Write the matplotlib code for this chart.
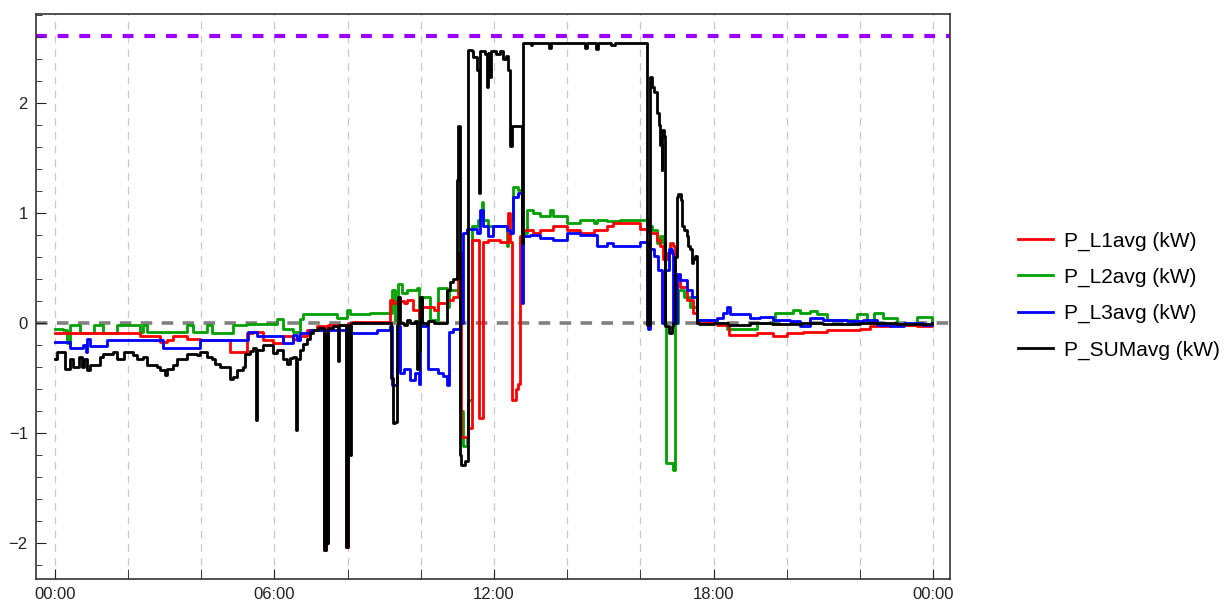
import matplotlib.pyplot as plt
from matplotlib.ticker import FixedLocator, MultipleLocator

plt.rcParams['font.family'] = ['Liberation Sans', 'DejaVu Sans']

# hours of day where each series changes, and its value there (kW)
sum_hours = [0.00, 0.05, 0.28, 0.42, 0.51, 0.65, 0.74, 0.80, 0.89, 0.96, 1.24, 1.33, 1.60, 1.69,
             1.88, 2.15, 2.24, 2.42, 2.51, 2.79, 2.88, 3.01, 3.06, 3.24, 3.33, 3.61, 3.88, 3.97,
             4.15, 4.29, 4.38, 4.52, 4.79, 4.88, 4.97, 5.15, 5.20, 5.34, 5.43, 5.50, 5.54, 5.70,
             5.88, 5.97, 6.06, 6.25, 6.34, 6.43, 6.52, 6.58, 6.62, 6.70, 6.79, 6.88, 6.98, 7.07,
             7.20, 7.37, 7.41, 7.43, 7.47, 7.61, 7.73, 7.77, 7.96, 8.00, 8.05, 8.10, 9.20, 9.24,
             9.30, 9.34, 9.39, 9.43, 9.53, 9.62, 9.71, 9.84, 9.89, 9.94, 9.98, 10.03, 10.16, 10.21,
             10.35, 10.71, 10.80, 10.89, 10.98, 11.02, 11.06, 11.10, 11.20, 11.30, 11.39, 11.44,
             11.53, 11.58, 11.63, 11.75, 11.80, 11.83, 11.89, 11.92, 12.05, 12.17, 12.26, 12.32,
             12.39, 12.44, 12.50, 12.72, 12.76, 12.80, 13.00, 13.05, 13.50, 13.55, 14.50, 14.55,
             14.80, 14.85, 15.20, 15.30, 16.17, 16.26, 16.31, 16.36, 16.45, 16.50, 16.54, 16.58,
             16.60, 16.64, 16.67, 16.77, 16.86, 16.90, 16.95, 16.99, 17.04, 17.10, 17.13, 17.18,
             17.27, 17.31, 17.36, 17.40, 17.45, 17.49, 17.54, 17.60, 18.00, 18.40, 19.00, 19.60,
             20.40, 21.00, 22.00, 23.00, 23.96]
sum_vals = [-0.33, -0.26, -0.42, -0.33, -0.40, -0.31, -0.40, -0.33, -0.43, -0.38, -0.31, -0.28, -0.26, -0.33,
            -0.26, -0.29, -0.33, -0.31, -0.38, -0.40, -0.43, -0.47, -0.42, -0.38, -0.33, -0.28, -0.29, -0.26,
            -0.31, -0.33, -0.37, -0.40, -0.51, -0.49, -0.43, -0.40, -0.28, -0.25, -0.23, -0.88, -0.24, -0.20,
            -0.20, -0.27, -0.24, -0.33, -0.37, -0.32, -0.31, -0.97, -0.33, -0.24, -0.19, -0.14, -0.09, -0.06,
            -0.04, -2.06, -0.10, -2.00, -0.04, -0.03, -0.34, -0.02, -2.03, -0.02, -1.20, 0.00, -0.50, -0.91,
            -0.90, -0.02, 0.24, 0.00, -0.02, 0.03, 0.00, 0.02, -0.42, -0.25, 0.24, 0.00, -0.02, 0.02,
            0.00, 0.30, 0.37, 0.40, 1.30, 1.79, -1.20, -1.29, -1.25, 2.48, 2.47, 2.42,
            2.30, 1.18, 2.47, 2.45, 2.15, 2.46, 2.24, 2.47, 2.45, 2.47, 2.40, 2.43,
            2.30, 1.61, 1.79, 1.79, 0.73, 2.55, 2.53, 2.55, 2.50, 2.55, 2.50, 2.55,
            2.49, 2.55, 2.53, 2.55, -0.02, 2.24, 2.15, 2.10, 1.91, 1.80, 1.62, 1.39,
            1.76, 1.70, -0.03, -0.09, -0.03, 0.00, 0.60, 1.15, 1.17, 1.12, 0.88, 0.85,
            0.79, 0.70, 0.67, 0.55, 0.58, 0.61, 0.00, -0.01, 0.00, -0.02, 0.00, -0.01,
            0.00, -0.01, 0.00, -0.01, 0.00]

l1_hours = [0.00, 2.33, 2.88, 3.06, 3.24, 3.61, 3.97, 4.79, 5.25, 5.43, 5.70, 5.97, 6.25, 6.52,
            6.70, 6.88, 7.16, 7.37, 7.41, 7.43, 7.47, 7.96, 8.00, 8.16, 9.16, 9.25, 9.34, 9.53,
            9.62, 9.80, 9.94, 10.03, 10.35, 10.48, 10.71, 10.89, 11.03, 11.10, 11.30, 11.39, 11.60,
            11.69, 11.85, 12.17, 12.39, 12.44, 12.48, 12.60, 12.67, 12.71, 12.80, 13.08, 13.26,
            13.62, 13.99, 14.35, 14.72, 15.08, 15.26, 15.99, 16.17, 16.26, 16.45, 16.54, 16.63,
            16.72, 16.81, 16.90, 16.95, 17.08, 17.27, 17.45, 17.54, 18.09, 18.41, 19.18, 19.63,
            20.00, 20.45, 21.09, 22.00, 22.28, 22.82, 23.55, 23.96]
l1_vals = [-0.09, -0.12, -0.17, -0.15, -0.12, -0.14, -0.15, -0.26, -0.09, -0.08, -0.15, -0.18, -0.12, -0.14,
           -0.12, -0.06, -0.03, -2.06, -0.03, -2.00, -0.02, -2.03, 0.00, 0.01, 0.21, 0.18, 0.20, 0.18,
           0.21, 0.12, 0.06, 0.15, 0.12, 0.18, 0.21, 0.24, 0.64, -1.03, -0.95, 0.76, -0.86,
           0.74, 0.76, 0.74, 1.00, 0.74, -0.70, -0.60, -0.55, 0.79, 0.85, 0.82, 0.85,
           0.88, 0.85, 0.82, 0.85, 0.88, 0.91, 0.86, 0.85, 0.82, 0.76, 0.70, 0.58,
           0.64, 0.73, 0.70, 0.42, 0.33, 0.21, 0.09, 0.00, -0.02, -0.11, -0.09, -0.12,
           -0.09, -0.08, -0.06, -0.05, -0.03, -0.02, -0.03, -0.02]

l2_hours = [0.00, 0.24, 0.33, 0.42, 0.69, 1.06, 1.33, 1.69, 2.33, 2.42, 2.51, 3.61, 3.79, 4.15,
            4.29, 4.88, 5.25, 6.06, 6.25, 6.52, 6.70, 6.79, 7.70, 7.98, 8.07, 8.62, 9.21, 9.30,
            9.39, 9.48, 9.62, 9.89, 9.94, 10.03, 10.25, 10.48, 10.71, 10.76, 11.07, 11.16, 11.26,
            11.30, 11.39, 11.57, 11.67, 11.71, 11.85, 12.35, 12.39, 12.53, 12.67, 12.76, 12.89,
            13.08, 13.26, 13.53, 13.62, 13.99, 14.35, 14.72, 14.81, 15.08, 15.45, 16.17, 16.22,
            16.31, 16.45, 16.54, 16.63, 16.67, 16.70, 16.90, 16.95, 17.04, 17.18, 17.36, 17.54,
            18.09, 18.36, 19.18, 19.68, 20.18, 20.36, 20.64, 20.82, 21.09, 21.91, 22.19, 22.37,
            22.64, 23.00, 23.55, 23.96]
l2_vals = [-0.05, -0.06, -0.18, -0.02, -0.09, -0.02, -0.09, -0.02, -0.08, -0.02, -0.08, -0.02, -0.08, -0.02,
           -0.09, -0.02, -0.01, 0.04, -0.05, -0.08, 0.04, 0.08, 0.05, 0.12, 0.08, 0.09, 0.30, 0.03,
           0.36, 0.27, 0.30, 0.32, 0.00, 0.24, 0.03, 0.32, 0.15, 0.30, -0.80, -1.12, -1.03,
           -0.70, 0.88, 0.94, 1.10, 0.94, 0.88, 0.70, 0.94, 1.24, 1.21, 0.82, 1.03,
           1.00, 0.97, 1.03, 0.97, 0.91, 0.94, 0.91, 0.94, 0.93, 0.94, 0.95, 0.88,
           0.85, 0.73, 0.79, 0.73, 0.00, -1.27, -1.33, 0.00, 0.30, 0.24, 0.15, 0.03,
           0.00, -0.05, 0.00, 0.09, 0.12, 0.09, 0.11, 0.08, 0.03, 0.08, 0.02, 0.09,
           0.05, -0.02, 0.06, 0.02]

l3_hours = [0.00, 0.42, 0.78, 0.86, 0.89, 0.96, 1.42, 2.97, 3.97, 5.29, 5.52, 6.25, 6.52, 6.61,
            6.70, 6.98, 7.98, 8.80, 9.16, 9.21, 9.34, 9.39, 9.43, 9.53, 9.71, 9.84, 9.94, 9.98,
            10.21, 10.48, 10.62, 10.71, 10.76, 10.89, 11.07, 11.16, 11.26, 11.53, 11.62, 11.71,
            11.85, 11.98, 12.35, 12.44, 12.53, 12.67, 12.76, 12.80, 12.99, 13.26, 13.62, 13.99,
            14.35, 14.81, 15.08, 15.26, 15.99, 16.17, 16.20, 16.25, 16.36, 16.49, 16.58, 16.67,
            16.77, 16.86, 16.90, 16.99, 17.08, 17.27, 17.40, 17.54, 18.09, 18.27, 18.36, 18.45,
            19.00, 19.27, 19.63, 20.09, 20.36, 20.64, 21.00, 21.64, 22.09, 22.46, 22.82, 23.19,
            23.73, 23.96]
l3_vals = [-0.17, -0.23, -0.20, -0.26, -0.14, -0.21, -0.15, -0.23, -0.15, -0.08, -0.12, -0.18, -0.11, -0.15,
           -0.09, -0.06, -0.09, -0.06, -0.03, -0.56, -0.42, -0.03, -0.45, -0.42, -0.52, -0.45, -0.55, -0.03,
           -0.42, -0.45, -0.48, -0.56, -0.08, -0.05, 0.00, 0.82, 0.86, 0.82, 1.03, 0.88,
           0.79, 0.88, 0.85, 0.82, 1.15, 1.18, 0.18, 0.79, 0.80, 0.77, 0.76, 0.82,
           0.80, 0.70, 0.73, 0.70, 0.74, 0.73, -0.05, 0.67, 0.61, 0.48, 0.00, 0.48,
           0.67, 0.64, 0.00, 0.45, 0.39, 0.30, 0.24, 0.03, 0.05, 0.09, 0.15, 0.08,
           0.05, 0.06, 0.03, 0.02, -0.03, 0.05, 0.03, 0.02, 0.03, -0.02, -0.03, 0.00,
           -0.02, 0.00]

limit_kw = 2.61
tick_hours = [0, 6, 12, 18, 24]
tick_labels = ['00:00', '06:00', '12:00', '18:00', '00:00']

fig = plt.figure(figsize=(12.26, 6.03), dpi=100)
ax = fig.add_axes([0.0294, 0.0398, 0.7455, 0.937])

# grid and reference lines
for h in range(0, 25, 2):
    ax.axvline(h, color='#c8c8c8', lw=0.9, dashes=(6, 5), zorder=0)
ax.axhline(0, color='#808080', lw=2.6, dashes=(3.2, 2.6), zorder=1)
ax.axhline(limit_kw, color='#9b00ff', lw=3, dashes=(2.6, 2.6), zorder=1)

ax.plot(l1_hours, l1_vals, color='#ff0000', lw=2.0, drawstyle='steps-post', label='P_L1avg (kW)', zorder=3)
ax.plot(l2_hours, l2_vals, color='#00a000', lw=2.0, drawstyle='steps-post', label='P_L2avg (kW)', zorder=2)
ax.plot(l3_hours, l3_vals, color='#0000ff', lw=2.0, drawstyle='steps-post', label='P_L3avg (kW)', zorder=4)
ax.plot(sum_hours, sum_vals, color='#000000', lw=2.0, drawstyle='steps-post', label='P_SUMavg (kW)', zorder=5)

ax.set_xlim(-0.51, 24.46)
ax.set_ylim(-2.325, 2.81)

ax.xaxis.set_major_locator(FixedLocator(tick_hours))
ax.xaxis.set_minor_locator(MultipleLocator(2))
ax.set_xticks(tick_hours)
ax.set_xticklabels(tick_labels)
ax.set_yticks([-2, -1, 0, 1, 2])
ax.set_yticklabels(['\u22122', '\u22121', '0', '1', '2'])
ax.yaxis.set_minor_locator(MultipleLocator(0.2))

ax.tick_params(which='both', direction='in', top=False, right=False, labelsize=12, colors='#222222')
ax.tick_params(which='major', length=7, width=0.8)
ax.tick_params(which='minor', length=4, width=0.6)
ax.tick_params(axis='x', which='minor', length=7)
ax.tick_params(axis='x', pad=6)
ax.tick_params(axis='y', pad=6)
for s in ax.spines.values():
    s.set_color('#333333')
    s.set_linewidth(1.2)

leg = fig.legend(loc='center left', bbox_to_anchor=(0.815, 0.51), frameon=False, fontsize=15,
                 handlelength=1.7, labelspacing=0.82, handletextpad=0.5)
for line in leg.get_lines():
    line.set_linewidth(2.0)

plt.savefig('out.png', dpi=100)
